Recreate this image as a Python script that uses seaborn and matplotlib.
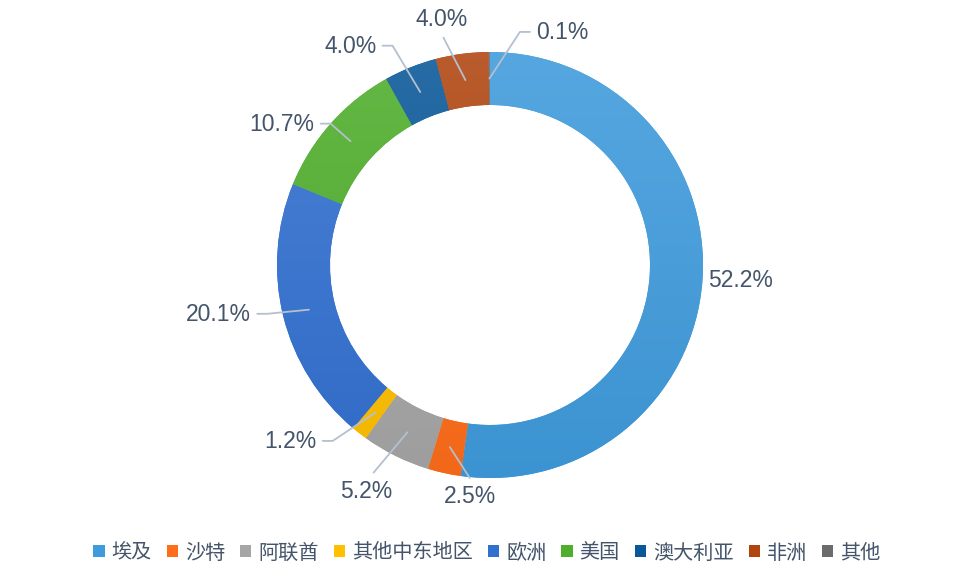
import numpy as np
import matplotlib.pyplot as plt
from matplotlib.patches import Patch
from matplotlib.colors import to_rgb
import seaborn as sns

# Data (clockwise from 12 o'clock)
regions = ["埃及", "沙特", "阿联酋", "其他中东地区", "欧洲", "美国", "澳大利亚", "非洲", "其他"]
shares = [52.2, 2.5, 5.2, 1.2, 20.1, 10.7, 4.0, 4.0, 0.1]
colors = ["#3f9bdc", "#ff6d1a", "#a6a6a6", "#ffc000", "#3270d0",
          "#4fae2c", "#0a5899", "#b04510", "#6b6b6b"]

# label layout: angle shift (deg), elbow radius (px), placement, text nudge (px)
lbl_shift = [0, -7, 3, 4, 1.5, 0, -2, -4, 7.5]
lbl_radius = [222, 214, 238, 236, 228, 213, 240, 232, 235]
lbl_mode = ["none", "below", "below", "h", "h", "h", "h", "above", "h"]
lbl_dx = [-3, 0, -7, 0, 0, 0, 0, -2, 0]

sns.set_theme(style="white")
plt.rcParams["font.family"] = ["Noto Sans CJK SC", "DejaVu Sans"]

W, H = 974, 582
fig = plt.figure(figsize=(W / 100, H / 100), dpi=100)
ax = fig.add_axes([0, 0, 1, 1])

cx, cy = 490, H - 265
R, ring = 213, 53

wedges, _ = ax.pie(shares, colors=colors, startangle=90, counterclock=False,
                   radius=R, center=(cx, cy),
                   wedgeprops=dict(width=ring, edgecolor="none", linewidth=0))

# soft top-to-bottom shading on each segment
grad = np.linspace(0, 1, 256)[:, None]
for w, c in zip(wedges, colors):
    base = np.array(to_rgb(c))
    light = base + (1 - base) * 0.12
    dark = base * 0.95
    img = light[None, None, :] * (1 - grad[..., None]) + dark[None, None, :] * grad[..., None]
    im = ax.imshow(img, extent=(cx - R, cx + R, cy - R, cy + R), origin="upper",
                   aspect="auto", zorder=w.get_zorder() + 0.1)
    im.set_clip_path(w)

ax.set_xlim(0, W)
ax.set_ylim(0, H)
ax.set_aspect("equal")
ax.axis("off")

txt_color = "#44546a"
line_color = "#b4c0cf"
lbl_font = ["Liberation Sans", "DejaVu Sans"]


def polar(theta, r):
    t = np.deg2rad(theta)
    return cx + r * np.sin(t), cy + r * np.cos(t)


cum = np.cumsum([0] + shares)
for i, v in enumerate(shares):
    mid = (cum[i] + cum[i + 1]) / 2 / 100 * 360
    ang = mid + lbl_shift[i]
    x0, y0 = polar(mid, R - ring / 2)
    x1, y1 = polar(ang, lbl_radius[i])
    label = f"{v:.1f}%"
    mode = lbl_mode[i]
    kw = dict(color=txt_color, fontsize=16.5, family=lbl_font, zorder=5)
    lkw = dict(color=line_color, lw=1.3, zorder=4)
    if mode == "none":
        ax.text(x1 + lbl_dx[i], y1, label, ha="left", va="center", **kw)
        continue
    if mode == "h":
        side = 1 if np.sin(np.deg2rad(ang)) >= 0 else -1
        x2 = x1 + side * 10
        ax.plot([x0, x1, x2], [y0, y1, y1], **lkw)
        ax.text(x2 + side * 6, y1 - 1, label, ha="left" if side > 0 else "right",
                va="center", **kw)
    elif mode == "below":
        ax.plot([x0, x1], [y0, y1], **lkw)
        ax.text(x1 + lbl_dx[i], y1 - 7, label, ha="center", va="top", **kw)
    else:
        ax.plot([x0, x1], [y0, y1], **lkw)
        ax.text(x1 + lbl_dx[i], y1 + 7, label, ha="center", va="bottom", **kw)

handles = [Patch(facecolor=c, edgecolor="none") for c in colors]
fig.legend(handles, regions, loc="center", bbox_to_anchor=(0.5, 29 / H), ncol=9,
           frameon=False, fontsize=14.5, labelcolor=txt_color,
           handlelength=0.55, handleheight=0.55, handletextpad=0.35,
           columnspacing=0.75, borderpad=0)

fig.savefig("out.png", dpi=100, facecolor="white")
